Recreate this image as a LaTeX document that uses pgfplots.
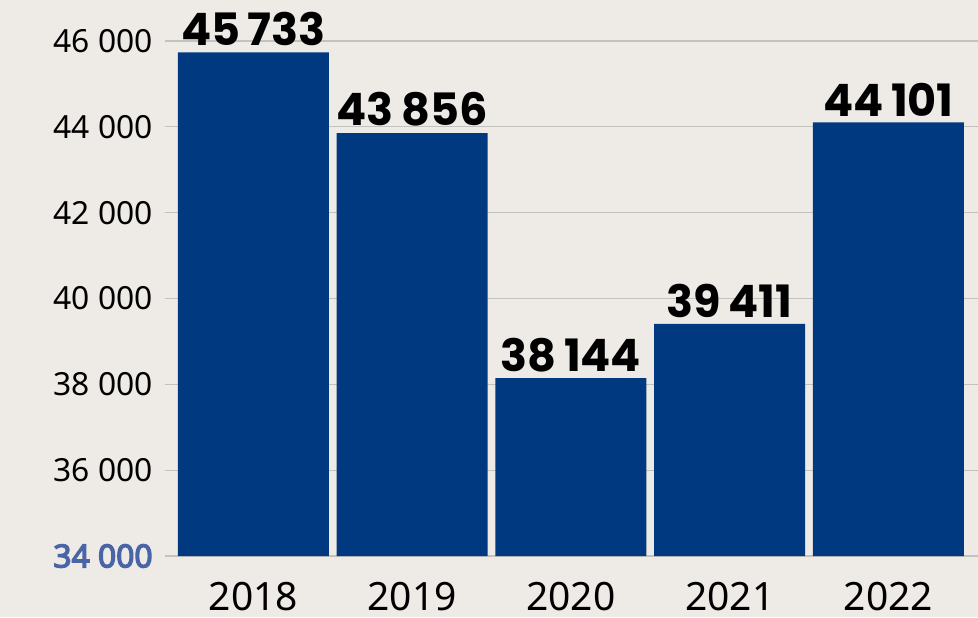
\documentclass[border=0pt]{standalone}
\usepackage{fontspec}
\usepackage{pgfplots}
\pgfplotsset{compat=1.18}
\setmainfont{Noto Sans}
\newfontfamily\boldsans{Noto Sans}[FakeBold=4]
\newfontfamily\labelfont{Poppins}[UprightFont=* Bold]
\definecolor{bg}{RGB}{238,235,230}
\definecolor{barblue}{RGB}{0,57,128}
\definecolor{lowblue}{RGB}{74,100,168}
\definecolor{gridgray}{RGB}{196,194,190}

\begin{document}
\begin{tikzpicture}
% page background, 1px = 0.5pt
\fill[bg] (-82.5pt,-30.5pt) rectangle (406.5pt,278pt);
\useasboundingbox (-82.5pt,-30.5pt) rectangle (406.5pt,278pt);
\begin{axis}[
    at={(0,0)}, anchor=south west,
    scale only axis,
    width=406.5pt, height=278pt,
    ybar, bar width=75.5pt, bar shift=0pt,
    xmin=-0.557, xmax=4.564,
    ymin=34000, ymax=46955,
    xtick=data,
    xticklabels={2018,2019,2020,2021,2022},
    ytick={34000,36000,38000,40000,42000,44000,46000},
    yticklabels={{\color{lowblue}\boldsans 34 000},36 000,38 000,40 000,42 000,44 000,46 000},
    scaled y ticks=false,
    major tick length=0pt,
    axis line style={draw=none},
    ymajorgrids=true, grid style={gridgray, line width=0.6pt},
    yticklabel style={font=\fontsize{15.9}{18}\selectfont, anchor=east, inner sep=0pt, xshift=-6pt},
    xticklabel style={font=\fontsize{19.5}{22}\selectfont, anchor=north, inner sep=0pt, yshift=-13pt},
    point meta=explicit symbolic,
    nodes near coords,
    nodes near coords style={font=\labelfont\fontsize{22.3}{25}\selectfont, anchor=south, inner sep=0pt, yshift=3pt, text=black},
]
\addplot[draw=none, fill=barblue] coordinates {
    (0,45733) [45\,733]
    (1,43856) [43\,856]
    (2,38144) [38\,144]
    (3,39411) [39\,411]
    (4,44101) [44\,101]
};
\end{axis}
\end{tikzpicture}
\end{document}
